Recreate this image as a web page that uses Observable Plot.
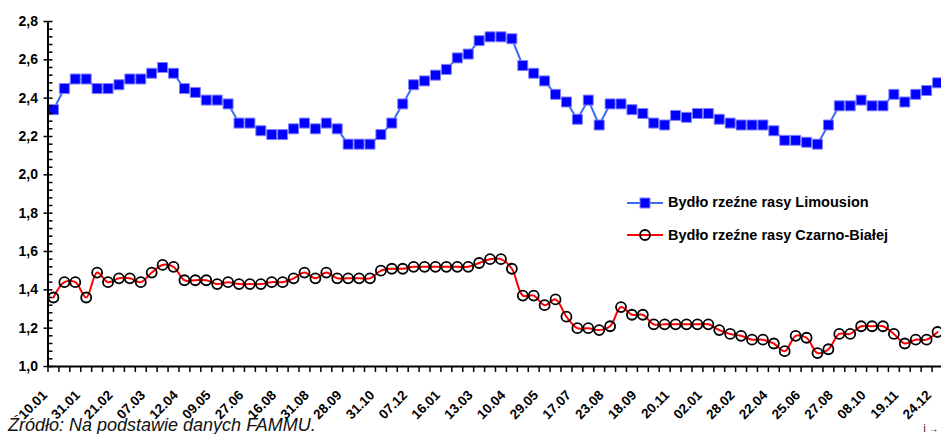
<!DOCTYPE html>
<html><head><meta charset="utf-8">
<script src="https://cdn.jsdelivr.net/npm/d3@7"></script>
<script src="https://cdn.jsdelivr.net/npm/@observablehq/plot@0.6"></script>
<style>
html,body{margin:0;padding:0;overflow:hidden;background:#fff;width:941px;height:434px;}
#chart{position:absolute;left:0;top:0;width:941px;height:434px;overflow:hidden;}
.legtext{position:absolute;left:668px;font:bold 14.5px "Liberation Sans",Arial,sans-serif;line-height:14.5px;color:#000;white-space:nowrap;}
.legsym{position:absolute;left:627px;width:36px;height:14px;}
#caption{position:absolute;left:8px;top:416px;font:italic 18px "Liberation Sans",Arial,sans-serif;line-height:18px;color:#111;white-space:nowrap;}
</style></head><body>
<div id="chart"></div>
<svg class="legsym" style="top:196px" viewBox="0 0 36 14"><line x1="0" y1="7" x2="36" y2="7" stroke="#3a6cf4" stroke-width="2"/><rect x="13" y="2" width="10" height="10" fill="#0000ff" stroke="#8080ff" stroke-width="1"/></svg>
<div class="legtext" style="top:195.4px">Bydło rzeźne rasy Limousion</div>
<svg class="legsym" style="top:228px" viewBox="0 0 36 14"><line x1="0" y1="7" x2="36" y2="7" stroke="#ff0000" stroke-width="2"/><circle cx="18" cy="7" r="5" fill="none" stroke="#000" stroke-width="1.8"/></svg>
<div class="legtext" style="top:227.7px">Bydło rzeźne rasy Czarno-Białej</div>
<div id="caption">Źródło: Na podstawie danych FAMMU.</div>
<script>
const seriesNames = ["Bydło rzeźne rasy Limousion", "Bydło rzeźne rasy Czarno-Białej"];
const tickLabels = ["10.01","31.01","21.02","07.03","12.04","09.05","27.06","16.08","31.08","28.09","31.10","07.12","16.01","13.03","10.04","29.05","17.07","23.08","18.09","20.11","02.01","28.02","22.04","25.06","27.08","08.10","19.11","24.12"];
const labelEvery = 3;
const limousin = [2.34,2.45,2.50,2.50,2.45,2.45,2.47,2.50,2.50,2.53,2.56,2.53,2.45,2.43,2.39,2.39,2.37,2.27,2.27,2.23,2.21,2.21,2.24,2.27,2.24,2.27,2.24,2.16,2.16,2.16,2.21,2.27,2.37,2.47,2.49,2.52,2.55,2.61,2.63,2.70,2.72,2.72,2.71,2.57,2.53,2.49,2.42,2.38,2.29,2.39,2.26,2.37,2.37,2.34,2.32,2.27,2.26,2.31,2.30,2.32,2.32,2.29,2.27,2.26,2.26,2.26,2.23,2.18,2.18,2.17,2.16,2.26,2.36,2.36,2.39,2.36,2.36,2.42,2.38,2.42,2.44,2.48];
const czarnoBiala = [1.36,1.44,1.44,1.36,1.49,1.44,1.46,1.46,1.44,1.49,1.53,1.52,1.45,1.45,1.45,1.43,1.44,1.43,1.43,1.43,1.44,1.44,1.46,1.49,1.46,1.49,1.46,1.46,1.46,1.46,1.50,1.51,1.51,1.52,1.52,1.52,1.52,1.52,1.52,1.54,1.56,1.56,1.51,1.37,1.37,1.32,1.35,1.26,1.20,1.20,1.19,1.21,1.31,1.27,1.27,1.22,1.22,1.22,1.22,1.22,1.22,1.19,1.17,1.16,1.14,1.14,1.12,1.08,1.16,1.15,1.07,1.09,1.17,1.17,1.21,1.21,1.21,1.17,1.12,1.14,1.14,1.18];
const yTicks = [1.0,1.2,1.4,1.6,1.8,2.0,2.2,2.4,2.6,2.8];
const yMinorStep = 0.04;

const n = limousin.length;
const data = limousin.map((v, i) => ({i, lim: v, cb: czarnoBiala[i]}));
const labelIdx = tickLabels.map((_, k) => k * labelEvery);
const boundaries = d3.range(n + 1).map(i => i - 0.5);
const yMinor = d3.range(0, Math.round((2.8 - 1.0) / yMinorStep) + 1).map(k => +(1.0 + k * yMinorStep).toFixed(2));
const fmt = d => d.toFixed(1).replace(".", ",");

const chart = Plot.plot({
  width: 941, height: 434,
  marginLeft: 47.5, marginRight: -1.5, marginTop: 21, marginBottom: 68,
  x: {domain: [-0.5, n - 0.5], axis: null},
  y: {domain: [1.0, 2.8], axis: null},
  style: {fontFamily: "'Liberation Sans', Arial, sans-serif", background: "white", color: "#000"},
  marks: [
    Plot.line(data, {x: "i", y: "lim", stroke: "#3a6cf4", strokeWidth: 2}),
    Plot.dot(data, {x: "i", y: "lim", symbol: "square", r: 5.65, fill: "#0000ff", stroke: "#8080ff", strokeWidth: 1}),
    Plot.line(data, {x: "i", y: "cb", stroke: "#ff0000", strokeWidth: 2, curve: "catmull-rom"}),
    Plot.dot(data, {x: "i", y: "cb", r: 5, fill: "none", stroke: "#000", strokeWidth: 1.8}),
    Plot.axisY({ticks: yTicks, tickFormat: fmt, tickSize: 4, tickPadding: 6, fontSize: 14, fontWeight: "bold", strokeWidth: 1.5}),
    Plot.axisY({ticks: yMinor, tickSize: -5, text: null, strokeWidth: 1.5}),
    Plot.axisX({ticks: boundaries, tickSize: 6, text: null, strokeWidth: 1.5}),
    Plot.ruleX([-0.5], {stroke: "#000", strokeWidth: 2}),
    Plot.ruleY([1.0], {stroke: "#000", strokeWidth: 2}),
    Plot.text(labelIdx, {x: d => d, text: (d, k) => tickLabels[k], frameAnchor: "bottom", rotate: -45, textAnchor: "end", dx: -5.5, dy: 29.5, fontSize: 13.5, fontWeight: "bold", fill: "#000"})
  ]
});
document.getElementById("chart").appendChild(chart);
</script>
</body></html>
